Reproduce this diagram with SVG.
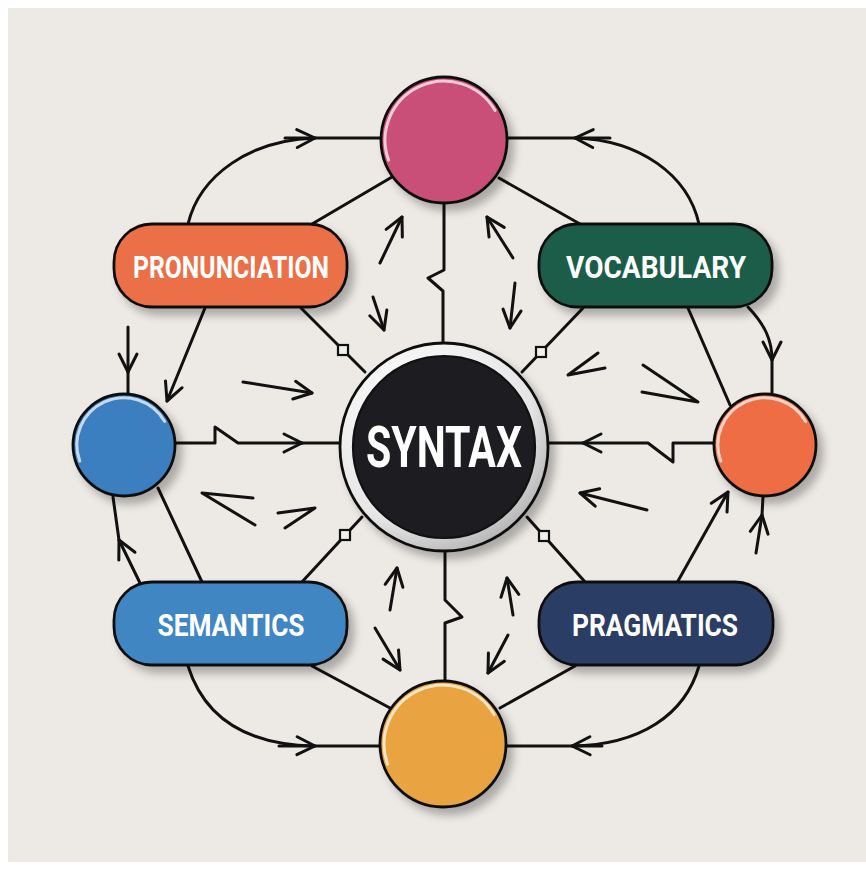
<svg xmlns="http://www.w3.org/2000/svg" width="866" height="872" viewBox="0 0 866 872">
<style>
.ln{fill:none;stroke:#111111;stroke-width:3;stroke-linecap:round;stroke-linejoin:round}
.ar{marker-end:url(#chev)}
.sq{fill:#f2f0ec;stroke:#111111;stroke-width:2.2}
.node{stroke:#111111;stroke-width:2.8;filter:url(#sh)}
.hl{fill:none;stroke:#ffffff;stroke-width:3;stroke-linecap:round;opacity:0.7}
.lbl{font-family:Roboto,"Liberation Sans",sans-serif;font-weight:700;fill:#ffffff;text-anchor:middle}
</style>
<defs>
<marker id="chev" viewBox="0 0 24 24" refX="21" refY="12" markerWidth="24" markerHeight="24" markerUnits="userSpaceOnUse" orient="auto">
<path d="M3,3 L21,12 L3,21" fill="none" stroke="#111111" stroke-width="3" stroke-linecap="round" stroke-linejoin="round"/>
</marker>
<filter id="sh" x="-30%" y="-30%" width="160%" height="160%">
<feDropShadow dx="6" dy="7" stdDeviation="4" flood-color="#000" flood-opacity="0.28"/>
</filter>
<radialGradient id="ring" cx="0.35" cy="0.3" r="0.8">
<stop offset="0" stop-color="#ffffff"/>
<stop offset="0.7" stop-color="#e6e6e6"/>
<stop offset="1" stop-color="#a9a9a9"/>
</radialGradient>
</defs>
<rect x="0" y="0" width="866" height="872" fill="#ffffff"/>
<rect x="8" y="8" width="858" height="854" fill="#edeae5"/>

<g id="connectors">
<!-- top -->
<path class="ln ar" d="M188,224 C200,175 250,140 315,138"/>
<path class="ln" d="M285,138 H381"/>
<path class="ln ar" d="M699,224 C688,175 640,140 575,138"/>
<path class="ln" d="M506,138 H610"/>
<path class="ln" d="M392,177 L312,224"/>
<path class="ln" d="M499,178 L580,224"/>
<path class="ln" d="M444,203 V270 L428,278 L443,291 V343"/>
<path class="ln ar" d="M380,263 L402,217"/>
<path class="ln ar" d="M373,297 L384,330"/>
<path class="ln ar" d="M513,258 L487,217"/>
<path class="ln ar" d="M515,283 L510,328"/>
<!-- left -->
<path class="ln ar" d="M128,327 V372"/>
<path class="ln" d="M128,372 V395"/>
<path class="ln ar" d="M205,308 L167,401"/>
<path class="ln ar" d="M175,443 H215 L215,427 L238,443 H302"/>
<path class="ln" d="M302,443 H339"/>
<path class="ln ar" d="M243,382 L312,393"/>
<path class="ln" d="M253,498 L202,493 L255,525"/>
<path class="ln" d="M278,513 L315,508 L285,528"/>
<path class="ln ar" d="M140,583 L119,540"/>
<path class="ln" d="M119,540 L113,497"/>
<path class="ln" d="M158,488 L202,582"/>
<!-- right -->
<path class="ln" d="M598,353 L568,375 L605,368"/>
<path class="ln" d="M643,365 L698,402 L642,392"/>
<path class="ln ar" d="M713,443 H673 V462 L648,443 H583"/>
<path class="ln" d="M583,443 H549"/>
<path class="ln ar" d="M647,510 L580,493"/>
<path class="ln" d="M688,308 L730,405"/>
<path class="ln ar" d="M748,307 C765,325 772,340 772,360"/>
<path class="ln" d="M772,360 V397"/>
<path class="ln ar" d="M678,581 L728,492"/>
<path class="ln ar" d="M756,553 L762,515"/>
<path class="ln" d="M762,515 L763,497"/>
<!-- diagonals with squares -->
<path class="ln" d="M301,308 L365,372"/>
<path class="ln" d="M583,308 L522,372"/>
<path class="ln" d="M301,583 L362,517"/>
<path class="ln" d="M586,583 L527,517"/>
<rect class="sq" x="338" y="345" width="10" height="10"/>
<rect class="sq" x="536" y="347" width="10" height="10"/>
<rect class="sq" x="340" y="530" width="10" height="10"/>
<rect class="sq" x="539" y="531" width="10" height="10"/>
<!-- bottom -->
<path class="ln" d="M445,550 V600 L462,617 L445,623 V681"/>
<path class="ln ar" d="M390,610 L397,568"/>
<path class="ln ar" d="M375,628 L400,670"/>
<path class="ln ar" d="M513,615 L507,578"/>
<path class="ln ar" d="M508,635 L488,673"/>
<path class="ln ar" d="M188,666 C205,720 250,745 315,746"/>
<path class="ln" d="M279,746 H380"/>
<path class="ln" d="M312,666 L390,708"/>
<path class="ln" d="M575,666 L500,708"/>
<path class="ln ar" d="M699,666 C685,715 640,745 572,746"/>
<path class="ln" d="M507,746 H602"/>
</g>

<g id="top-circle">
<circle class="node" cx="444" cy="140" r="63" fill="#c94f78"/>
<path class="hl" d="M388.6,160.2 A59,59 0 0 1 495.1,110.5"/>
</g>
<g id="bottom-circle">
<circle class="node" cx="443" cy="744" r="63" fill="#e9a33f"/>
<path class="hl" d="M387.6,764.2 A59,59 0 0 1 494.1,714.5"/>
</g>
<g id="left-circle">
<circle class="node" cx="124" cy="445" r="51" fill="#3a7fc1"/>
<path class="hl" d="M79.8,461.1 A47,47 0 0 1 164.7,421.5"/>
</g>
<g id="right-circle">
<circle class="node" cx="765" cy="445" r="51" fill="#ee6d44"/>
<path class="hl" d="M720.8,461.1 A47,47 0 0 1 805.7,421.5"/>
</g>

<g id="syntax">
<circle class="node" cx="444" cy="447" r="104" fill="url(#ring)"/>
<circle cx="444" cy="447" r="91" fill="#1d1c20" stroke="#111111" stroke-width="2.2"/>
<text class="lbl" x="444" y="467" font-size="58" textLength="156" lengthAdjust="spacingAndGlyphs">SYNTAX</text>
</g>

<g id="pronunciation">
<rect class="node" x="114" y="224" width="233" height="83" rx="38" fill="#eb6f47"/>
<text class="lbl" x="231" y="278" font-size="31" textLength="196" lengthAdjust="spacingAndGlyphs">PRONUNCIATION</text>
</g>
<g id="vocabulary">
<rect class="node" x="539" y="224" width="233" height="83" rx="38" fill="#1d5d4a"/>
<text class="lbl" x="656" y="278" font-size="31" textLength="180" lengthAdjust="spacingAndGlyphs">VOCABULARY</text>
</g>
<g id="semantics">
<rect class="node" x="114" y="582" width="233" height="83" rx="38" fill="#4186c2"/>
<text class="lbl" x="231" y="636" font-size="32" textLength="147" lengthAdjust="spacingAndGlyphs">SEMANTICS</text>
</g>
<g id="pragmatics">
<rect class="node" x="539" y="582" width="234" height="83" rx="38" fill="#2c3e65"/>
<text class="lbl" x="655" y="636" font-size="32" textLength="166" lengthAdjust="spacingAndGlyphs">PRAGMATICS</text>
</g>
</svg>
